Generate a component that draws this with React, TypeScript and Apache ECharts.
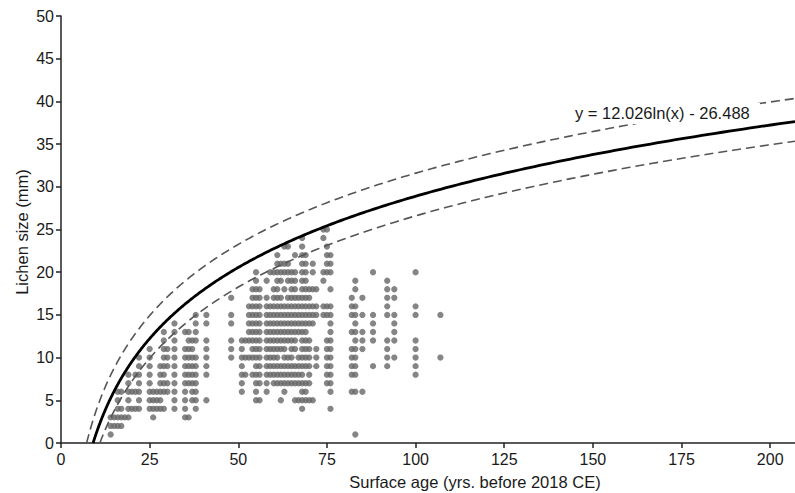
import React, { useEffect, useRef } from "react";
import * as echarts from "echarts";

// Fit shown on the chart: y = 12.026 ln(x) - 26.488
const FIT_A = 12.026;
const FIT_B = 26.488;
const UPPER_OFFSET = 2.7;
const LOWER_OFFSET = -2.3;
const X_MAX = 207;
const X_TICKS = [0, 25, 50, 75, 100, 125, 150, 175, 200];

// Lichen size (mm) rows with the surface ages (yrs) observed at that size
const youngRows: [number, number[]][] = [
  [1, [14]],
  [2, [14, 15, 16, 17]],
  [3, [14, 15, 16, 17, 18, 19, 26, 35, 36]],
  [4, [16, 17, 19, 20, 21, 22, 25, 26, 27, 28, 29, 32, 35, 38]],
  [5, [16, 19, 22, 25, 26, 27, 28, 32, 35, 37, 38, 41]],
  [6, [16, 17, 19, 20, 21, 22, 25, 26, 27, 28, 29, 30, 32, 35, 37, 38]],
  [7, [19, 22, 25, 28, 29, 30, 32, 35, 36, 37, 38]],
  [8, [19, 21, 22, 25, 28, 29, 32, 35, 36, 37, 38, 41]],
  [9, [22, 25, 28, 29, 30, 32, 35, 36, 37, 38, 41]],
  [10, [22, 25, 29, 30, 32, 35, 36, 37, 38, 41]],
  [11, [25, 29, 30, 32, 35, 36, 37, 41]],
  [12, [29, 32, 36, 37, 38, 41]],
  [13, [29, 32, 35, 36, 38]],
  [14, [32, 38, 41]],
  [15, [38, 41]],
];

const midRows: [number, number[]][] = [
  [4, [68, 76]],
  [5, [55, 56, 62, 66, 67, 68, 69, 70, 71]],
  [6, [51, 55, 58, 63, 68, 69, 76]],
  [7, [51, 55, 56, 58, 60, 61, 62, 63, 64, 65, 66, 67, 68, 69, 70, 75, 76]],
  [8, [51, 52, 54, 55, 56, 58, 59, 60, 61, 62, 63, 64, 65, 66, 67, 68, 70, 75, 76]],
  [9, [51, 55, 56, 58, 59, 60, 61, 62, 63, 64, 65, 66, 67, 68, 69, 70, 72, 75, 76]],
  [10, [48, 51, 52, 53, 54, 55, 56, 58, 59, 60, 61, 63, 64, 65, 67, 68, 69, 70, 72, 75, 76]],
  [11, [48, 51, 54, 55, 56, 58, 59, 60, 61, 62, 63, 65, 66, 68, 69, 70, 72, 75, 76]],
  [12, [48, 51, 52, 53, 54, 55, 56, 58, 59, 60, 61, 62, 63, 64, 65, 66, 68, 69, 70, 75, 76]],
  [13, [53, 54, 55, 56, 58, 59, 60, 61, 62, 63, 64, 65, 66, 67, 68, 69, 76]],
  [14, [48, 53, 54, 55, 56, 58, 59, 60, 61, 62, 63, 64, 65, 66, 67, 68, 69, 70, 71, 76]],
  [15, [48, 53, 54, 55, 56, 58, 59, 60, 61, 62, 63, 64, 65, 66, 67, 68, 69, 70, 71, 72, 74, 75, 76]],
  [16, [53, 54, 55, 56, 58, 59, 60, 61, 62, 63, 64, 65, 66, 67, 68, 69, 70, 71, 72, 74, 75, 76]],
  [17, [48, 54, 55, 56, 58, 60, 61, 62, 64, 65, 66, 67, 68, 69, 70]],
  [18, [54, 55, 56, 60, 61, 63, 65, 66, 68, 69, 70, 71, 72, 76]],
  [19, [55, 58, 61, 62, 64, 65, 66, 68, 69, 74]],
  [20, [55, 59, 60, 61, 62, 63, 64, 65, 66, 68, 69, 71, 74, 75, 76]],
  [21, [61, 62, 63, 64, 68, 69, 71, 75, 76]],
  [22, [61, 66, 68, 69, 75, 76]],
  [23, [63, 64, 68, 75]],
  [24, [68, 74]],
  [25, [74, 75]],
];

const oldRows: [number, number[]][] = [
  [1, [83]],
  [6, [82, 83, 85]],
  [8, [82, 83, 100]],
  [9, [82, 83, 88, 92, 100]],
  [10, [82, 83, 92, 94, 100, 107]],
  [11, [82, 83, 85, 92, 100]],
  [12, [83, 85, 88, 92, 94, 100]],
  [13, [82, 83, 85, 88, 94]],
  [14, [83, 88, 94]],
  [15, [82, 83, 85, 88, 92, 94, 100, 107]],
  [16, [82, 83, 92, 100]],
  [17, [82, 85, 92, 94]],
  [18, [83, 92, 94]],
  [19, [83, 92]],
  [20, [88, 100]],
];

function rowsToPoints(rows: [number, number[]][]): [number, number][] {
  const pts: [number, number][] = [];
  rows.forEach(([mm, ages]) => ages.forEach((age) => pts.push([age, mm])));
  return pts;
}

function fitCurve(offset: number): [number, number][] {
  const pts: [number, number][] = [];
  const x0 = Math.exp((FIT_B - offset) / FIT_A);
  const n = 300;
  for (let i = 0; i <= n; i++) {
    const x = x0 * Math.pow(X_MAX / x0, i / n);
    pts.push([x, FIT_A * Math.log(x) - FIT_B + offset]);
  }
  return pts;
}

const FONT = "'Liberation Sans', Arial, sans-serif";
const TEXT_COLOR = "#1a1a1a";

export default function App() {
  const ref = useRef<HTMLDivElement>(null);
  useEffect(() => {
    if (!ref.current) return;
    const chart = echarts.init(ref.current, null, { renderer: "svg" });
    const points = [
      ...rowsToPoints(youngRows),
      ...rowsToPoints(midRows),
      ...rowsToPoints(oldRows),
    ];
    chart.setOption({
      animation: false,
      backgroundColor: "#ffffff",
      grid: { left: 61, right: 0, top: 16, bottom: 50, containLabel: false },
      xAxis: {
        type: "value",
        min: 0,
        max: X_MAX,
        interval: 25,
        splitLine: { show: false },
        axisLine: { show: true, lineStyle: { color: "#222", width: 1.5 } },
        axisTick: {
          show: true,
          length: 5,
          customValues: X_TICKS,
          lineStyle: { color: "#222", width: 1.5 },
        },
        axisLabel: {
          customValues: X_TICKS,
          color: TEXT_COLOR,
          fontSize: 16,
          fontFamily: FONT,
          margin: 8,
        },
      },
      yAxis: {
        type: "value",
        min: 0,
        max: 50,
        interval: 5,
        splitLine: { show: false },
        axisLine: { show: true, lineStyle: { color: "#222", width: 1.5 } },
        axisTick: { show: true, length: 5, lineStyle: { color: "#222", width: 1.5 } },
        axisLabel: { color: TEXT_COLOR, fontSize: 16, fontFamily: FONT, margin: 7 },
      },
      series: [
        {
          type: "scatter",
          data: points,
          symbol: "circle",
          symbolSize: 6.3,
          itemStyle: { color: "#666666" },
          z: 2,
        },
        {
          type: "line",
          data: fitCurve(UPPER_OFFSET),
          showSymbol: false,
          lineStyle: { color: "#555555", width: 1.6, type: [9, 5] },
          z: 3,
        },
        {
          type: "line",
          data: fitCurve(LOWER_OFFSET),
          showSymbol: false,
          lineStyle: { color: "#555555", width: 1.6, type: [9, 5] },
          z: 3,
        },
        {
          type: "line",
          data: fitCurve(0),
          showSymbol: false,
          lineStyle: { color: "#000000", width: 2.8 },
          z: 4,
        },
      ],
      graphic: [
        {
          type: "rect",
          shape: { x: 572, y: 103, width: 188, height: 21 },
          style: { fill: "#ffffff" },
          z: 100,
        },
        {
          type: "text",
          left: 575,
          top: 104,
          style: {
            text: "y = 12.026ln(x) - 26.488",
            fill: TEXT_COLOR,
            font: `16.5px ${FONT}`,
          },
          z: 101,
        },
        {
          type: "text",
          x: 22,
          y: 232,
          rotation: Math.PI / 2,
          style: {
            text: "Lichen size (mm)",
            fill: TEXT_COLOR,
            font: `16.5px ${FONT}`,
            align: "center",
            verticalAlign: "middle",
          },
        },
        {
          type: "text",
          x: 475,
          y: 482,
          style: {
            text: "Surface age (yrs. before 2018 CE)",
            fill: TEXT_COLOR,
            font: `16.5px ${FONT}`,
            align: "center",
            verticalAlign: "middle",
          },
        },
      ],
    });
    return () => chart.dispose();
  }, []);
  return (
    <div
      ref={ref}
      style={{ position: "fixed", left: 0, top: 0, width: 795, height: 493 }}
    />
  );
}
